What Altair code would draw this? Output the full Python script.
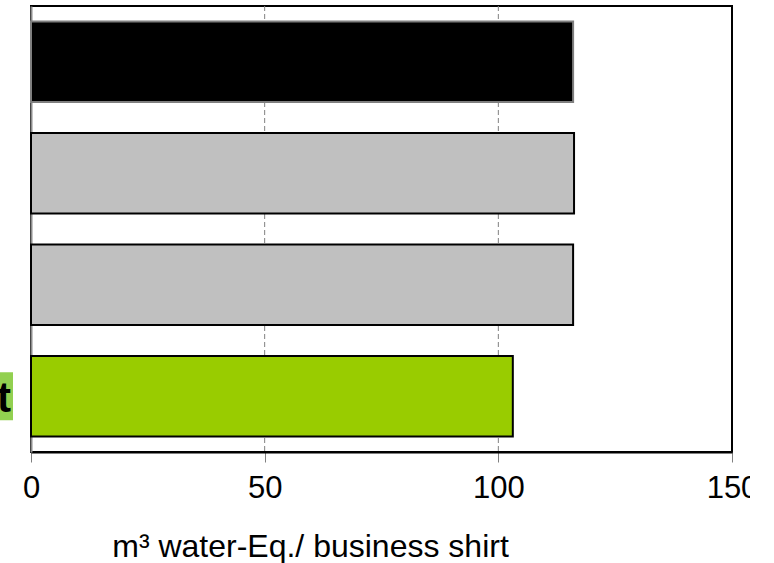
import altair as alt
import pandas as pd

categories = ["Variant 1", "Variant 2", "Variant 3", "Business shirt"]
values = [116.0, 116.2, 116.0, 103.1]
fills = ["#000000", "#c0c0c0", "#c0c0c0", "#99cc00"]
strokes = ["#7f7f7f", "#000000", "#000000", "#000000"]
highlight_label = "Business shirt"
x_ticks = [0, 50, 100, 150]
grid_values = [50, 100]
x_title = "m³ water-Eq./ business shirt"

df = pd.DataFrame({"cat": categories, "val": values})
hl = pd.DataFrame({"cat": [highlight_label], "label": [highlight_label]})
gdf = pd.DataFrame({"g": grid_values})

FONT = "Liberation Sans"

xscale = alt.Scale(domain=[0, 150], nice=False)
yscale = alt.Scale(domain=categories, paddingInner=0.28, paddingOuter=0.14)
yenc = alt.Y("cat:N", sort=categories, scale=yscale,
             axis=alt.Axis(labels=False, ticks=False, title=None, grid=False,
                           domainColor="#8c8c8c", domainWidth=2))

grid = alt.Chart(gdf).mark_rule(color="#808080", strokeWidth=1, strokeDash=[5, 3]).encode(
    x=alt.X("g:Q", scale=xscale)
)

bars = alt.Chart(df).mark_bar(strokeWidth=2).encode(
    x=alt.X("val:Q", scale=xscale,
            axis=alt.Axis(values=x_ticks, title=x_title, grid=False,
                          domainColor="#000000", domainWidth=2,
                          tickColor="#808080", tickSize=10, tickWidth=1,
                          labelFont=FONT, labelFontSize=31, labelColor="#000000",
                          labelPadding=11, labelFlush=False,
                          titleFont=FONT, titleFontSize=32, titleFontWeight="normal",
                          titleColor="#000000", titleX=279, titleY=104,
                          titleAlign="center", titleBaseline="alphabetic")),
    y=yenc,
    fill=alt.Fill("cat:N", scale=alt.Scale(domain=categories, range=fills), legend=None),
    stroke=alt.Stroke("cat:N", scale=alt.Scale(domain=categories, range=strokes), legend=None),
)

box = alt.Chart(hl).mark_bar(size=48, color="#92d050").encode(
    x=alt.value(-80), x2=alt.value(-18), y=alt.Y("cat:N", sort=categories, scale=yscale)
)

txt = alt.Chart(hl).mark_text(align="right", baseline="middle", font=FONT,
                               fontSize=42, fontWeight="bold", color="#000000", dy=3).encode(
    x=alt.value(-20), y=alt.Y("cat:N", sort=categories, scale=yscale), text="label:N"
)

chart = alt.layer(grid, box, txt, bars).properties(
    width=701, height=446,
    background="white",
    autosize=alt.AutoSizeParams(type="none"),
    padding={"left": 31, "top": 6, "right": 18, "bottom": 111},
).configure_view(stroke="#000000", strokeWidth=2)

chart.save("out.html", embed_options={"renderer": "svg", "actions": False})
